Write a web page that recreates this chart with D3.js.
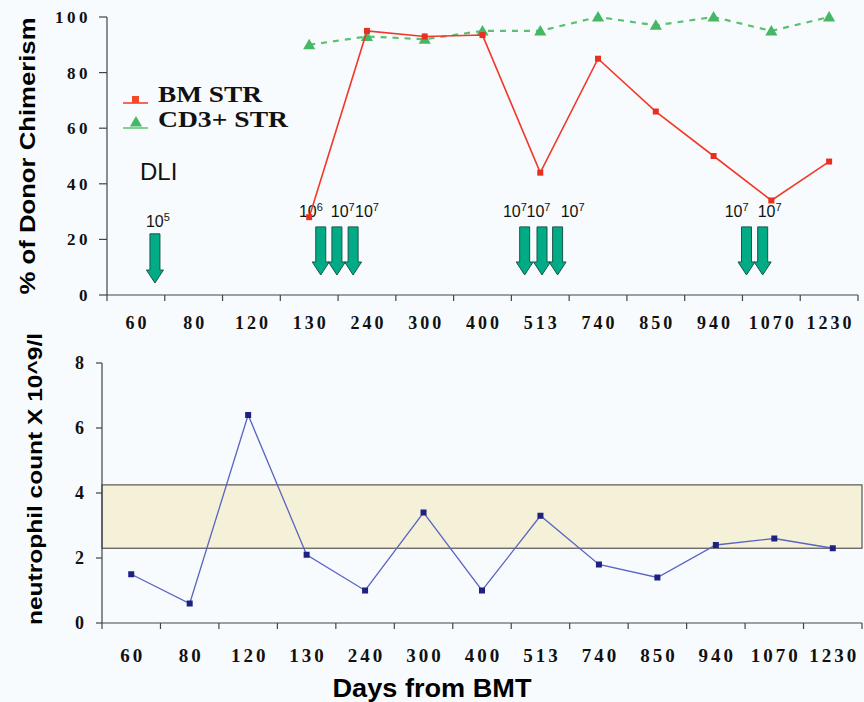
<!DOCTYPE html>
<html>
<head>
<meta charset="utf-8">
<script src="https://cdn.jsdelivr.net/npm/d3@7"></script>
<style>
  body { margin: 0; background: #f8fbfd; }
  svg { display: block; }
</style>
</head>
<body>
<div id="chart"></div>
<script>
// categories (days from BMT)
let days = ["60","80","120","130","240","300","400","513","740","850","940","1070","1230"];

// donor chimerism (%)
let bmStr  = [null,null,null,28,95,93,93.5,44,85,66,50,34,48];
let cd3Str = [null,null,null,90,93,92,95,95,100,97,100,95,100];

// neutrophil count x 10^9/l
let neutro = [1.5,0.6,6.4,2.1,1.0,3.4,1.0,3.3,1.8,1.4,2.4,2.6,2.3];
let normalRange = [2.3, 4.25];

// DLI arrows: position in category units, top and tip value
let dliArrows = [
  {pos: 0.83, top: 22, tip: 4.3},
  {pos: 3.70, top: 24.5, tip: 7.2},
  {pos: 3.98, top: 24.5, tip: 7.2},
  {pos: 4.26, top: 24.5, tip: 7.2},
  {pos: 7.23, top: 24.5, tip: 7.2},
  {pos: 7.53, top: 24.5, tip: 7.2},
  {pos: 7.80, top: 24.5, tip: 7.2},
  {pos: 11.07, top: 24.5, tip: 7.2},
  {pos: 11.35, top: 24.5, tip: 7.2}
];
// DLI dose labels
let dliLabels = [
  {pos: 0.88, val: 24.5, exp: "5"},
  {pos: 3.53, val: 28, exp: "6"},
  {pos: 4.08, val: 28, exp: "7"},
  {pos: 4.50, val: 28, exp: "7"},
  {pos: 7.06, val: 28, exp: "7"},
  {pos: 7.47, val: 28, exp: "7"},
  {pos: 8.06, val: 28, exp: "7"},
  {pos: 10.90, val: 28, exp: "7"},
  {pos: 11.47, val: 28, exp: "7"}
];

let topTicks = [0,20,40,60,80,100];
let botTicks = [0,2,4,6,8];

let W = 864, H = 702;
let svg = d3.select("#chart").append("svg").attr("width", W).attr("height", H);
svg.append("rect").attr("width", W).attr("height", H).attr("fill", "#f8fbfd");

let AXIS = "#444";
let SERIF = "'Liberation Serif','Times New Roman',serif";
let SANS = "'Liberation Sans',Arial,sans-serif";

// ---------- top chart ----------
let xTop = d3.scaleBand().domain(days).range([107, 858]);
let xTopIdx = d3.scaleLinear().domain([0, days.length]).range(xTop.range());
let yTop = d3.scaleLinear().domain([0, 100]).range([295, 17]);

let gTop = svg.append("g");

// y axis
gTop.append("line").attr("x1", 107).attr("x2", 107).attr("y1", yTop(100)).attr("y2", yTop(0))
    .attr("stroke", AXIS).attr("stroke-width", 1.2);
gTop.selectAll(".yt").data(topTicks).enter().append("line")
    .attr("x1", 99).attr("x2", 107).attr("y1", d => yTop(d)).attr("y2", d => yTop(d))
    .attr("stroke", AXIS).attr("stroke-width", 1.2);
gTop.selectAll(".yl").data(topTicks).enter().append("text")
    .attr("x", 91).attr("y", d => yTop(d)).attr("dy", "0.35em")
    .attr("text-anchor", "end").attr("font-family", SERIF).attr("font-weight", "bold")
    .attr("font-size", 17).attr("letter-spacing", 3.5).attr("fill", "#111").text(d => d);

// x axis
gTop.append("line").attr("x1", xTop.range()[0]).attr("x2", xTop.range()[1])
    .attr("y1", yTop(0)).attr("y2", yTop(0)).attr("stroke", AXIS).attr("stroke-width", 1.2);
gTop.selectAll(".xt").data(d3.range(days.length + 1)).enter().append("line")
    .attr("x1", d => xTopIdx(d)).attr("x2", d => xTopIdx(d))
    .attr("y1", yTop(0)).attr("y2", yTop(0) + 6).attr("stroke", AXIS).attr("stroke-width", 1.2);
gTop.selectAll(".xl").data(days).enter().append("text")
    .attr("x", d => xTop(d) + xTop.bandwidth() / 2 + 1.5).attr("y", 329)
    .attr("text-anchor", "middle").attr("font-family", SERIF).attr("font-weight", "bold")
    .attr("font-size", 18).attr("letter-spacing", 3).attr("fill", "#111").text(d => d);

// y title
gTop.append("text")
    .attr("transform", "translate(35," + ((17 + 295) / 2) + ") rotate(-90)")
    .attr("text-anchor", "middle").attr("font-family", SANS).attr("font-weight", "bold")
    .attr("font-size", 22).attr("textLength", 277).attr("lengthAdjust", "spacingAndGlyphs")
    .text("% of Donor Chimerism");

// DLI arrows
let arrowPath = function(d) {
  let cx = xTopIdx(d.pos), y0 = yTop(d.top), y1 = yTop(d.tip);
  let bw = 5, hw = 8.5, hl = 13;
  return "M" + (cx - bw) + "," + y0 + "L" + (cx + bw) + "," + y0 +
         "L" + (cx + bw) + "," + (y1 - hl) + "L" + (cx + hw) + "," + (y1 - hl) +
         "L" + cx + "," + y1 + "L" + (cx - hw) + "," + (y1 - hl) +
         "L" + (cx - bw) + "," + (y1 - hl) + "Z";
};
gTop.selectAll(".arrow").data(dliArrows).enter().append("path")
    .attr("d", arrowPath).attr("fill", "#00ab86").attr("stroke", "#1d5548").attr("stroke-width", 1);

let lab = gTop.selectAll(".dli").data(dliLabels).enter().append("text")
    .attr("x", d => xTopIdx(d.pos)).attr("y", d => yTop(d.val))
    .attr("text-anchor", "middle").attr("font-family", SANS).attr("font-size", 16).attr("fill", "#111");
lab.append("tspan").text("10");
lab.append("tspan").attr("dy", -6).attr("font-size", 11).text(d => d.exp);

gTop.append("text").attr("x", 140).attr("y", 180).attr("font-family", SANS)
    .attr("font-size", 24).attr("fill", "#111").text("DLI");

// CD3+ STR series (dashed green)
let cd3Data = days.map((d, i) => ({day: d, v: cd3Str[i]})).filter(d => d.v !== null);
let bmData = days.map((d, i) => ({day: d, v: bmStr[i]})).filter(d => d.v !== null);
let cx = d => xTop(d.day) + xTop.bandwidth() / 2;

let lineTop = d3.line().x(cx).y(d => yTop(d.v));

gTop.append("path").datum(cd3Data).attr("d", lineTop).attr("fill", "none")
    .attr("stroke", "#5cc070").attr("stroke-width", 2.2).attr("stroke-dasharray", "6,6");
let tri = d3.symbol().type(d3.symbolTriangle).size(64);
gTop.selectAll(".tri").data(cd3Data).enter().append("path")
    .attr("d", tri).attr("transform", d => "translate(" + cx(d) + "," + (yTop(d.v) + 1) + ")")
    .attr("fill", "#46b865");

gTop.append("path").datum(bmData).attr("d", lineTop).attr("fill", "none")
    .attr("stroke", "#f0392b").attr("stroke-width", 1.6);
gTop.selectAll(".sq").data(bmData).enter().append("rect")
    .attr("x", d => cx(d) - 3).attr("y", d => yTop(d.v) - 3).attr("width", 6).attr("height", 6)
    .attr("fill", "#e8301e");

// legend
let leg = gTop.append("g");
leg.append("line").attr("x1", 123).attr("x2", 148).attr("y1", 103).attr("y2", 103)
    .attr("stroke", "#f0392b").attr("stroke-width", 1.5);
leg.append("rect").attr("x", 132).attr("y", 96).attr("width", 7).attr("height", 7).attr("fill", "#f04a2a");
leg.append("text").attr("x", 158).attr("y", 102).attr("font-family", SERIF).attr("font-weight", "bold")
    .attr("font-size", 23).attr("textLength", 104).attr("lengthAdjust", "spacingAndGlyphs")
    .attr("fill", "#111").text("BM STR");
leg.append("line").attr("x1", 123).attr("x2", 148).attr("y1", 128).attr("y2", 128)
    .attr("stroke", "#5cc070").attr("stroke-width", 1.5);
leg.append("path").attr("d", tri).attr("transform", "translate(136,123)").attr("fill", "#46b865");
leg.append("text").attr("x", 158).attr("y", 127).attr("font-family", SERIF).attr("font-weight", "bold")
    .attr("font-size", 23).attr("textLength", 130).attr("lengthAdjust", "spacingAndGlyphs")
    .attr("fill", "#111").text("CD3+ STR");

// ---------- bottom chart ----------
let xBot = d3.scaleBand().domain(days).range([102, 862]);
let xBotIdx = d3.scaleLinear().domain([0, days.length]).range(xBot.range());
let yBot = d3.scaleLinear().domain([0, 8]).range([623, 363]);

let gBot = svg.append("g");

// normal range band
gBot.append("rect").attr("x", xBot.range()[0]).attr("width", xBot.range()[1] - xBot.range()[0])
    .attr("y", yBot(normalRange[1])).attr("height", yBot(normalRange[0]) - yBot(normalRange[1]))
    .attr("fill", "#f5f0d8").attr("stroke", "#555").attr("stroke-width", 1.2);

gBot.append("line").attr("x1", 102).attr("x2", 102).attr("y1", yBot(8)).attr("y2", yBot(0))
    .attr("stroke", AXIS).attr("stroke-width", 1.2);
gBot.selectAll(".yt").data(botTicks).enter().append("line")
    .attr("x1", 96).attr("x2", 102).attr("y1", d => yBot(d)).attr("y2", d => yBot(d))
    .attr("stroke", AXIS).attr("stroke-width", 1.2);
gBot.selectAll(".yl").data(botTicks).enter().append("text")
    .attr("x", 84).attr("y", d => yBot(d)).attr("dy", "0.35em")
    .attr("text-anchor", "end").attr("font-family", SERIF).attr("font-weight", "bold")
    .attr("font-size", 18).attr("fill", "#111").text(d => d);

gBot.append("line").attr("x1", xBot.range()[0]).attr("x2", xBot.range()[1])
    .attr("y1", yBot(0)).attr("y2", yBot(0)).attr("stroke", AXIS).attr("stroke-width", 1.2);
gBot.selectAll(".xt").data(d3.range(days.length + 1)).enter().append("line")
    .attr("x1", d => xBotIdx(d)).attr("x2", d => xBotIdx(d))
    .attr("y1", yBot(0)).attr("y2", yBot(0) + 6).attr("stroke", AXIS).attr("stroke-width", 1.2);
gBot.selectAll(".xl").data(days).enter().append("text")
    .attr("x", d => xBot(d) + xBot.bandwidth() / 2 + 1.5).attr("y", 662)
    .attr("text-anchor", "middle").attr("font-family", SERIF).attr("font-weight", "bold")
    .attr("font-size", 19).attr("letter-spacing", 3).attr("fill", "#111").text(d => d);

gBot.append("text")
    .attr("transform", "translate(42,479) rotate(-90)")
    .attr("text-anchor", "middle").attr("font-family", SANS).attr("font-weight", "bold")
    .attr("font-size", 20).attr("textLength", 292).attr("lengthAdjust", "spacingAndGlyphs")
    .text("neutrophil count X 10^9/l");

gBot.append("text").attr("x", 432).attr("y", 697).attr("text-anchor", "middle")
    .attr("font-family", SANS).attr("font-weight", "bold").attr("font-size", 25)
    .attr("textLength", 199).attr("lengthAdjust", "spacingAndGlyphs").text("Days from BMT");

let neuData = days.map((d, i) => ({day: d, v: neutro[i]}));
let cxB = d => xBot(d.day) + xBot.bandwidth() / 2;
gBot.append("path").datum(neuData)
    .attr("d", d3.line().x(cxB).y(d => yBot(d.v)))
    .attr("fill", "none").attr("stroke", "#5a64c2").attr("stroke-width", 1.3);
gBot.selectAll(".sq").data(neuData).enter().append("rect")
    .attr("x", d => cxB(d) - 3).attr("y", d => yBot(d.v) - 3).attr("width", 6).attr("height", 6)
    .attr("fill", "#1f2180");
</script>
</body>
</html>
